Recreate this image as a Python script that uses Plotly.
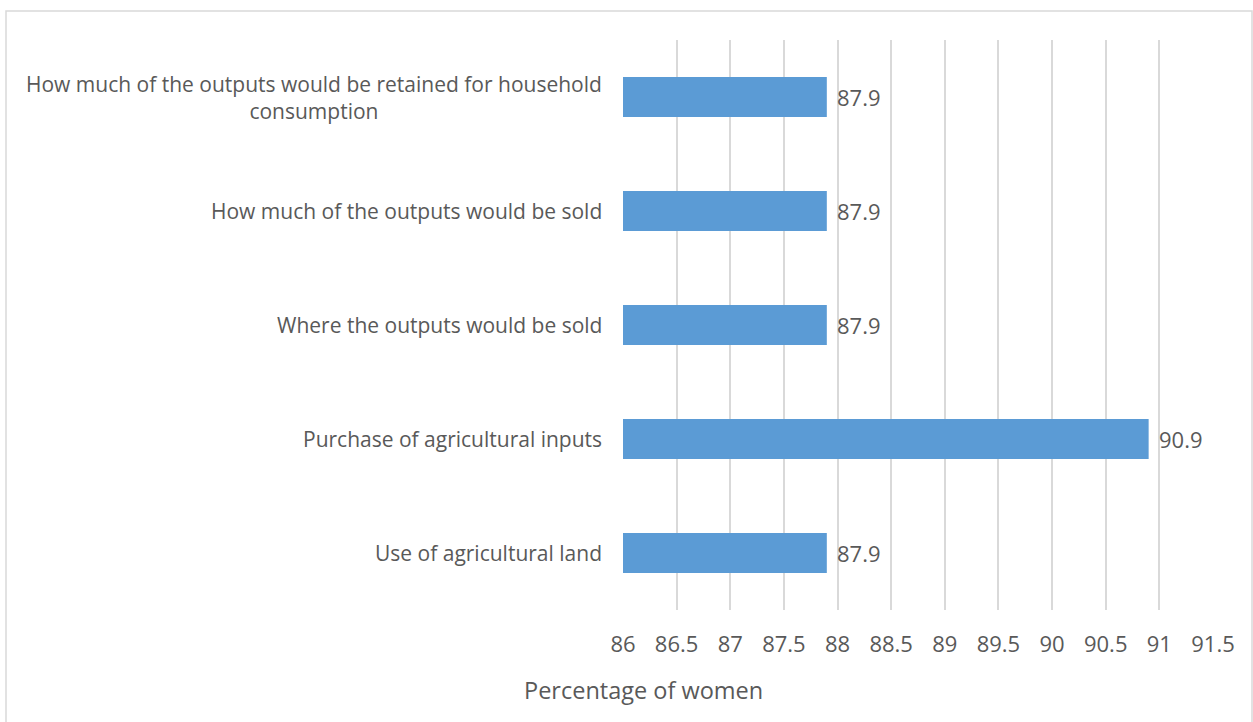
import plotly.graph_objects as go

categories = [
    "How much of the outputs would be retained for household<br>consumption",
    "How much of the outputs would be sold",
    "Where the outputs would be sold",
    "Purchase of agricultural inputs",
    "Use of agricultural land",
]
values = [87.9, 87.9, 87.9, 90.9, 87.9]
tick_vals = [86, 86.5, 87, 87.5, 88, 88.5, 89, 89.5, 90, 90.5, 91, 91.5]
x_title = "Percentage of women"

FONT = "Open Sans"
TXT = "#595959"
W, H = 1253, 722
L, R, T, B = 623, 1213, 40, 610

ys = list(range(len(categories)))[::-1]

fig = go.Figure()
fig.add_trace(go.Bar(
    x=[v - 86 for v in values], base=86, y=ys, orientation="h",
    marker=dict(color="#5B9BD5", line=dict(width=0)), width=0.35,
    hoverinfo="skip",
))

ann = []
for y, v in zip(ys, values):
    ann.append(dict(x=v, y=y, xref="x", yref="y", text=f"{v}", showarrow=False,
                    xanchor="left", xshift=8, font=dict(family=FONT, size=22, color=TXT)))
for y, c in zip(ys, categories):
    ann.append(dict(x=0, y=y, xref="paper", yref="y", text=c, showarrow=False,
                    xanchor="right", xshift=-19, align="center",
                    font=dict(family=FONT, size=21, color=TXT)))
ann.append(dict(x=(643 - L) / (R - L), y=(B - 690) / (B - T), xref="paper", yref="paper",
                text=x_title, showarrow=False, xanchor="center", yanchor="middle",
                font=dict(family=FONT, size=23.5, color=TXT)))

fig.update_layout(
    width=W, height=H,
    margin=dict(l=L, r=W - R, t=T, b=H - B),
    paper_bgcolor="white", plot_bgcolor="white",
    showlegend=False,
    annotations=ann,
    shapes=[dict(type="rect", xref="paper", yref="paper",
                 x0=(6 - L) / (R - L), x1=(1252 - L) / (R - L),
                 y0=(B - 730) / (B - T), y1=1 + (T - 11) / (B - T),
                 line=dict(color="#D9D9D9", width=1.5), fillcolor="rgba(0,0,0,0)", layer="below")],
    xaxis=dict(range=[86, 91.5], tickvals=tick_vals, ticktext=[f"{t:g}" for t in tick_vals],
               showgrid=True, gridcolor="#D9D9D9", gridwidth=1.5, zeroline=False,
               showline=False, ticks="", ticklabelstandoff=19,
               tickfont=dict(family=FONT, size=22, color=TXT)),
    yaxis=dict(range=[-0.5, len(categories) - 0.5], showticklabels=False, showgrid=False,
               zeroline=False, showline=False, ticks=""),
)

fig.write_html("out.html")
